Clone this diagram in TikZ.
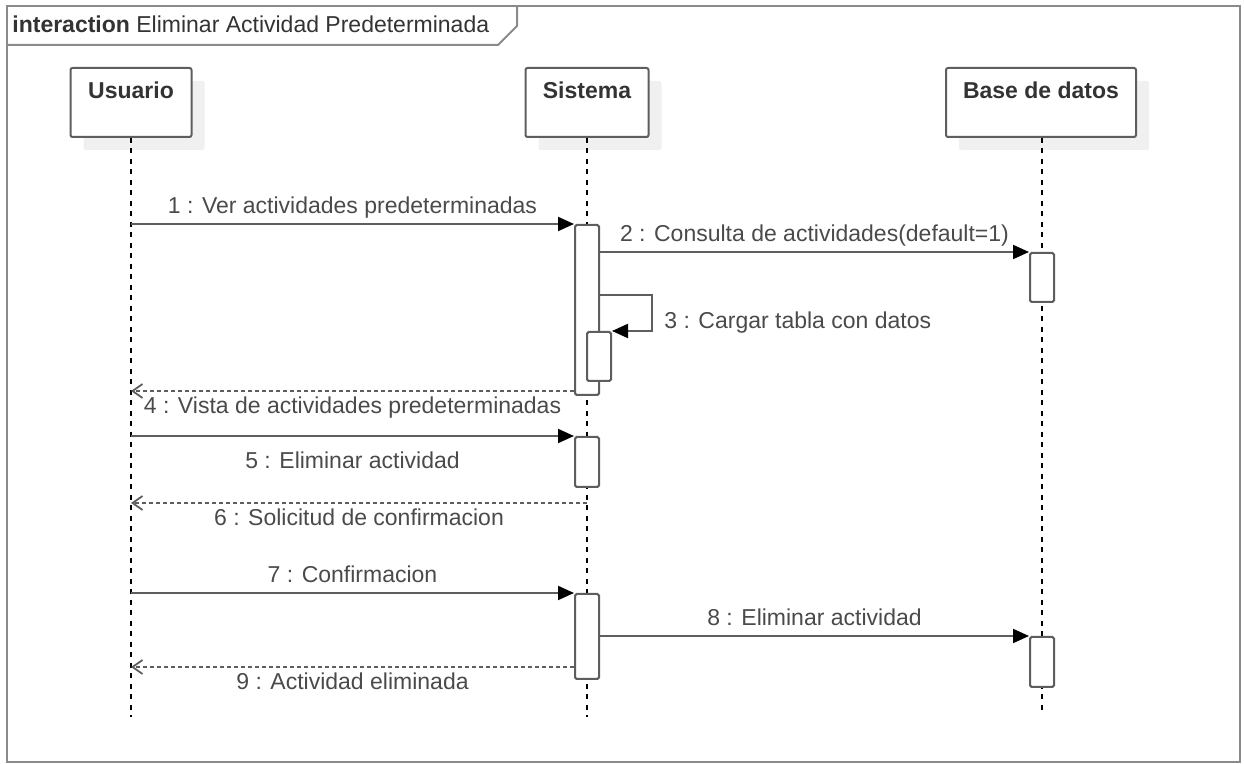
\documentclass[tikz,border=0pt]{standalone}
\usepackage{fontspec}
\setmainfont{Liberation Sans}
\usetikzlibrary{arrows.meta,shadows}

\definecolor{framegray}{HTML}{8A8A8A}
\definecolor{linegray}{HTML}{5E5E5E}
\definecolor{shadowgray}{HTML}{F0F0F0}
\definecolor{textgray}{HTML}{333333}
\definecolor{msggray}{HTML}{4A4A4A}

\begin{document}
\begin{tikzpicture}[x=0.5pt, y=-0.5pt,
    every node/.style={font=\fontsize{11.5}{14}\selectfont, text=textgray},
    lifeline/.style={draw=black, line width=0.7pt, dash pattern=on 2.5pt off 2.75pt},
    activation/.style={draw=linegray, fill=white, line width=1pt, rounded corners=0.8pt, minimum width=12pt, inner sep=0pt},
    call/.style={draw=linegray, line width=1pt, -{Triangle[length=8pt,width=7pt,black]}},
    reply/.style={draw=linegray, line width=0.9pt, dash pattern=on 2pt off 1.5pt, -{Straight Barb[length=5pt,width=7pt]}},
    msg above/.style={anchor=base, yshift=5pt, inner sep=0pt, text=msggray},
    msg below/.style={anchor=base, yshift=-11.5pt, inner sep=0pt, text=msggray}
]
\useasboundingbox (0,0) rectangle (1244,764);

% frame with title tab
\draw[framegray, line width=1.3pt] (7,6) rectangle (1240,762);
\draw[framegray, line width=1pt] (7,45) -- (498,45) -- (517,26) -- (517,6);
\node (T) at (12,33) [anchor=base west, inner sep=0pt] {\textbf{interaction} Eliminar Actividad Predeterminada};

\begin{scope}[every node/.style={draw=linegray, fill=white, line width=1pt, rounded corners=1pt, minimum height=34.5pt,
              general shadow={fill=shadowgray, shadow xshift=6.5pt, shadow yshift=-6.5pt}}]
    \node (U) at (131,102.5) [minimum width=60.5pt] {};
    \node (S) at (587,102.5) [minimum width=61.5pt] {};
    \node (D) at (1041,102.5) [minimum width=95pt] {};
\end{scope}

\node at ([yshift=-16pt]U.north) [anchor=base, font=\fontsize{11.5}{14}\selectfont\bfseries] {Usuario};
\node at ([yshift=-16pt]S.north) [anchor=base, font=\fontsize{11.5}{14}\selectfont\bfseries] {Sistema};
\node at ([yshift=-16pt]D.north) [anchor=base, font=\fontsize{11.5}{14}\selectfont\bfseries] {Base de datos};

\coordinate (Ue) at (131,717);
\coordinate (Se) at (587,717);
\coordinate (De) at (1042,712);
\draw[lifeline] (U.south) -- (Ue);
\draw[lifeline] (S.south) -- (Se);
\draw[lifeline] (D.south -| De) -- (De);

% activations
\node[activation, minimum height=85pt] (S1) at (587,310) {};
\node[activation, minimum height=24.5pt] (S2) at (599,356.5) {};
\node[activation, minimum height=25pt] (S3) at (587,462) {};
\node[activation, minimum height=42.5pt] (S4) at (587,636.5) {};
\node[activation, minimum height=24.5pt] (D1) at (1042,277.5) {};
\node[activation, minimum height=25pt] (D2) at (1042,662) {};

% messages
\draw[call] (U |- S1.north) -- (S1.north west) node[midway, msg above] {1 : Ver actividades predeterminadas};
\draw[call] (S1.east |- D1.north) -- (D1.north west) node[midway, msg above] {2 : Consulta de actividades(default=1)};
\draw[call] ([yshift=-35.5pt]S1.north east) -- ++(26pt,0) |- (S2.north east);
\node (L3) at (664,329) [anchor=base west, inner sep=0pt, text=msggray] {3 : Cargar tabla con datos};

\coordinate (r4) at ([yshift=2.5pt]S1.south west);
\draw[reply] (r4) -- (U |- r4) node[midway, msg below] {4 : Vista de actividades predeterminadas};

\draw[call] (U |- S3.north) -- (S3.north west) node[midway, msg below, yshift=-5pt] {5 : Eliminar actividad};

\coordinate (r6) at ([yshift=-7.5pt]S3.south);
\draw[reply] (r6) -- (U |- r6) node[midway, msg below] {6 : Solicitud de confirmacion};

\draw[call] (U |- S4.north) -- (S4.north west) node[midway, msg above] {7 : Confirmacion};
\draw[call] (S4.east |- D2.north) -- (D2.north west) node[midway, msg above] {8 : Eliminar actividad};

\coordinate (r9) at ([yshift=6.5pt]S4.south west);
\draw[reply] (r9) -- (U |- r9) node[midway, msg below] {9 : Actividad eliminada};

\end{tikzpicture}
\end{document}
